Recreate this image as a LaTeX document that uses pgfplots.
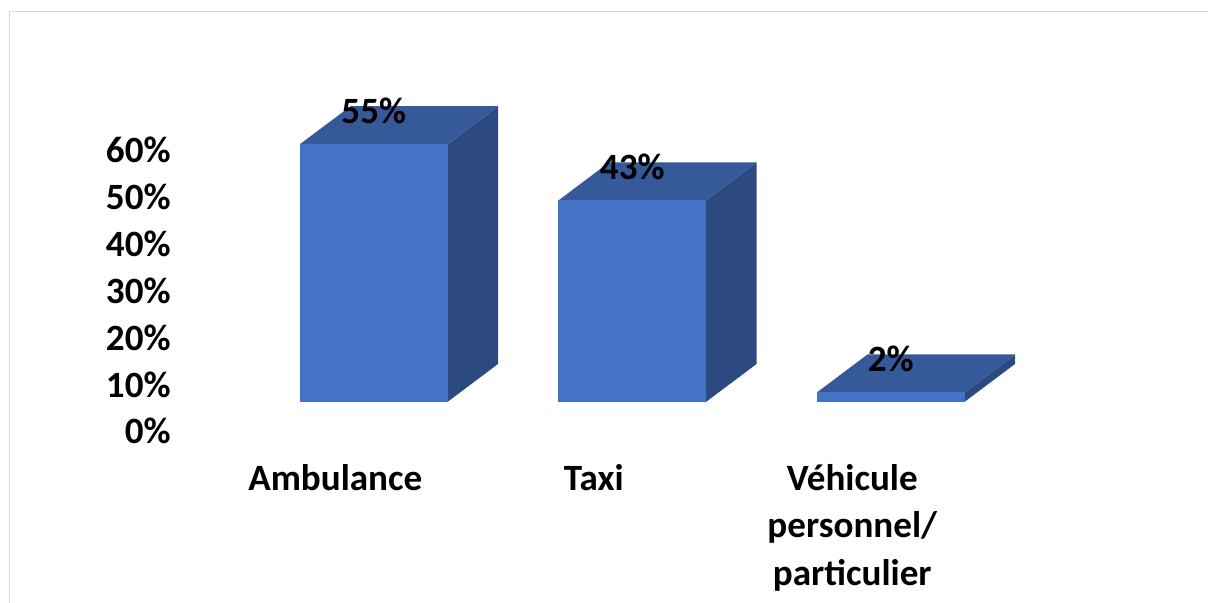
\documentclass[border=0pt]{standalone}
\usepackage{pgfplots}
\pgfplotsset{compat=1.18}
\usepackage{fontspec}
\setmainfont{Carlito}
\definecolor{frontc}{HTML}{4472C4}
\definecolor{topc}{HTML}{36599A}
\definecolor{sidec}{HTML}{2C4A7F}
\definecolor{framec}{HTML}{D9D9D9}
\newcommand{\myfont}{\fontsize{18.55}{23.75}\selectfont\bfseries}
% #1 = category position, #2 = value (%)
\newcommand{\threedbar}[2]{%
\addplot[fill=sidec, draw=none] table[row sep=\\, x expr={#1+0.2857+\thisrow{d}*0.1957}, y expr={6.3+\thisrow{h}*#2+\thisrow{d}*8.11}] {h d\\ 0 0\\ 0 1\\ 1 1\\ 1 0\\} -- cycle;
\addplot[fill=topc, draw=none] table[row sep=\\, x expr={#1+\thisrow{s}*0.2857+\thisrow{d}*0.1957}, y expr={6.3+#2+\thisrow{d}*8.11}] {s d\\ -1 0\\ 1 0\\ 1 1\\ -1 1\\} -- cycle;
\addplot[fill=frontc, draw=none] table[row sep=\\, x expr={#1+\thisrow{s}*0.2857}, y expr={6.3+\thisrow{h}*#2}] {s h\\ -1 0\\ 1 0\\ 1 1\\ -1 1\\} -- cycle;
\addplot[draw=none, mark=none, nodes near coords={#2\%}, every node near coord/.append style={anchor=center, yshift=16.8pt, font=\myfont, text=black}] table[row sep=\\, x expr={#1}, y expr={6.3+#2}] {a\\ 0\\};
}
\begin{document}
\begin{tikzpicture}
\useasboundingbox (0,0) rectangle (604pt,301.5pt);
\draw[framec, line width=0.75pt] (4.85pt,0) -- (4.85pt,295.65pt) -- (604pt,295.65pt);
\begin{axis}[
  at={(85.5pt,81.165pt)}, anchor=south west,
  x=129.25pt, y=2.3415pt,
  xmin=-0.7845, xmax=2.6, ymin=-2, ymax=65,
  axis line style={draw=none}, tick style={draw=none},
  clip=false,
  every tick label/.append style={font=\myfont, text=black},
  ytick={0,10,...,60},
  yticklabels={0\%,10\%,20\%,30\%,40\%,50\%,60\%},
  yticklabel style={anchor=east, inner sep=0pt},
  xtick={-0.149,0.851,1.851},
  xticklabels={\strut Ambulance,\strut Taxi,{\strut Véhicule\\personnel/\\particulier}},
  xticklabel style={align=center, anchor=north, inner sep=0pt, yshift=-8.04pt},
]
\threedbar{0}{55}
\threedbar{1}{43}
\threedbar{2}{2}
\end{axis}
\end{tikzpicture}
\end{document}
